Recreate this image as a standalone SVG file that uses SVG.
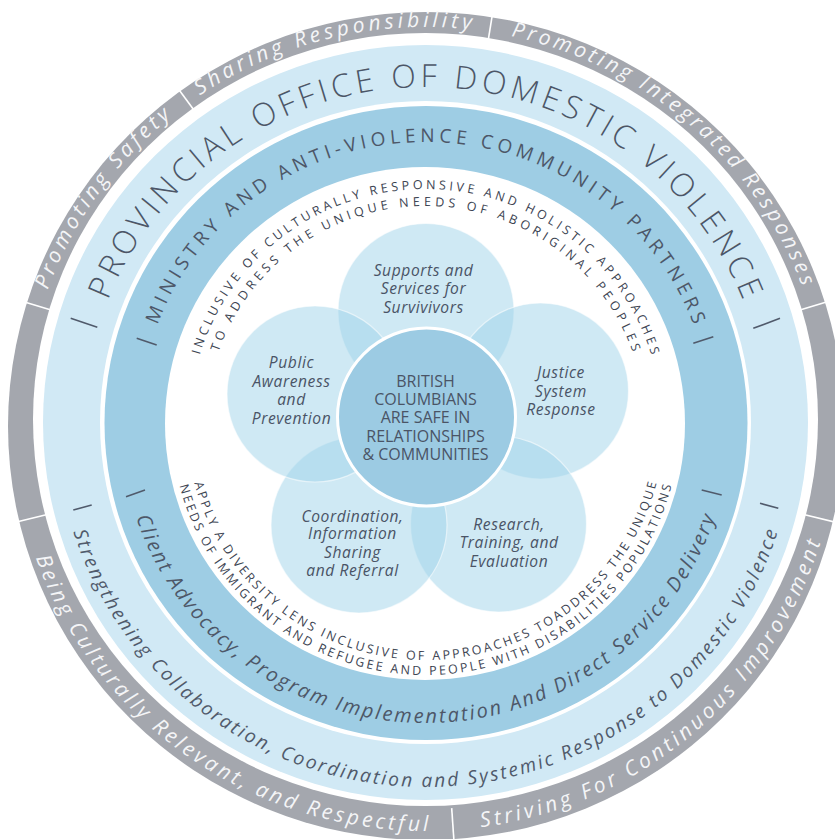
<svg xmlns="http://www.w3.org/2000/svg" width="835" height="839" viewBox="0 0 835 839">
<style>
.gt{font-family:'Open Sans','Noto Sans',sans-serif;font-style:italic;font-size:21px;fill:#f4f5f7}
.lt{font-family:'Open Sans','Noto Sans',sans-serif;font-weight:300;font-size:32px;fill:#4c5667}
.lb{font-family:'Open Sans','Noto Sans',sans-serif;font-style:italic;font-size:19px;fill:#505a6b}
.mt{font-family:'Open Sans','Noto Sans',sans-serif;font-size:19px;fill:#4d5768}
.mb{font-family:'Open Sans','Noto Sans',sans-serif;font-style:italic;font-size:20px;fill:#4d5768}
.it{font-family:'Open Sans','Noto Sans',sans-serif;font-size:12.5px;fill:#3c4452}
.ct{font-family:'Open Sans','Noto Sans',sans-serif;font-size:16px;fill:#4a5466;text-anchor:middle}
.pt{font-family:'Open Sans','Noto Sans',sans-serif;font-style:italic;font-size:15.6px;fill:#4a5466;text-anchor:middle;letter-spacing:0.6px}
.petal{fill:#9fd3ea;fill-opacity:0.5;stroke:#ffffff;stroke-opacity:0.55;stroke-width:1.2}
.wsep{stroke:#ffffff;stroke-width:1.6}
.dsep{stroke:#505a6b;stroke-width:1.6}
</style>
<defs>
<path id="pGt" d="M425.5,819 A401,396 0 1 1 425.5,27 A401,396 0 1 1 425.5,819"/>
<path id="pGb" d="M425.5,15 A413,408 0 1 0 425.5,831 A413,408 0 1 0 425.5,15"/>
<path id="pLt" d="M425.5,759 A341,336 0 1 1 425.5,87 A341,336 0 1 1 425.5,759"/>
<path id="pLb" d="M425.5,59 A369,364 0 1 0 425.5,787 A369,364 0 1 0 425.5,59"/>
<path id="pMt" d="M425.5,704 A286,281 0 1 1 425.5,142 A286,281 0 1 1 425.5,704"/>
<path id="pMb" d="M425.5,123 A305,300 0 1 0 425.5,723 A305,300 0 1 0 425.5,123"/>
<path id="pI1" d="M425.5,657 A236,234 0 1 1 425.5,189 A236,234 0 1 1 425.5,657"/>
<path id="pI2" d="M425.5,640 A219,217 0 1 1 425.5,206 A219,217 0 1 1 425.5,640"/>
<path id="pI3" d="M425.5,186 A239,237 0 1 0 425.5,660 A239,237 0 1 0 425.5,186"/>
<path id="pI4" d="M425.5,171 A254,252 0 1 0 425.5,675 A254,252 0 1 0 425.5,171"/>
</defs>
<rect width="835" height="839" fill="#ffffff"/>
<g id="rings">
<ellipse cx="426" cy="426" rx="418" ry="414" fill="#a4a7ae"/>
<ellipse cx="425.5" cy="419.5" rx="392.5" ry="386.5" fill="#ffffff"/>
<ellipse cx="425.5" cy="422.5" rx="382.5" ry="377.5" fill="#d1e9f5"/>
<ellipse cx="425.5" cy="422.5" rx="325.5" ry="321.5" fill="#ffffff"/>
<ellipse cx="426" cy="423" rx="321.5" ry="317" fill="#9ecde4"/>
<ellipse cx="425" cy="423.5" rx="260" ry="256.5" fill="#ffffff"/>
</g>
<g id="separators">
<line class="wsep" x1="56" y1="311.4" x2="19.6" y2="300.5"/>
<line class="wsep" x1="795" y1="311.4" x2="831.4" y2="300.5"/>
<line class="wsep" x1="50.3" y1="513.7" x2="13.4" y2="522.7"/>
<line class="wsep" x1="800.7" y1="513.7" x2="837.6" y2="522.7"/>
<line class="wsep" x1="195.9" y1="112.7" x2="173.3" y2="82.1"/>
<line class="wsep" x1="487.9" y1="42.1" x2="494" y2="4.6"/>
<line class="wsep" x1="451.7" y1="808.1" x2="454.3" y2="846"/>
<line class="dsep" x1="70.7" y1="318.3" x2="97.3" y2="327.3"/>
<line class="dsep" x1="753.3" y1="328.3" x2="780" y2="318.3"/>
<line class="dsep" x1="73.3" y1="510" x2="91.7" y2="505"/>
<line class="dsep" x1="760" y1="503.3" x2="778.3" y2="508.3"/>
<line class="dsep" x1="136.7" y1="338.3" x2="156.7" y2="345"/>
<line class="dsep" x1="693.3" y1="343.3" x2="713.3" y2="336.7"/>
<line class="dsep" x1="126" y1="496.7" x2="145" y2="490"/>
<line class="dsep" x1="701.7" y1="490" x2="721.7" y2="495"/>
</g>
<g id="ring-texts">
<text class="gt" text-anchor="middle"><textPath href="#pGt" startOffset="869" textLength="215" lengthAdjust="spacing">Promoting Safety</textPath></text>
<text class="gt" text-anchor="middle"><textPath href="#pGt" startOffset="1155" textLength="285" lengthAdjust="spacing">Sharing Responsibility</textPath></text>
<text class="gt" text-anchor="middle"><textPath href="#pGt" startOffset="1538" textLength="400" lengthAdjust="spacing">Promoting Integrated Responses</textPath></text>
<text class="gt" text-anchor="middle"><textPath href="#pGb" startOffset="1037" textLength="510" lengthAdjust="spacing">Being Culturally Relevant, and Respectful</textPath></text>
<text class="gt" text-anchor="middle"><textPath href="#pGb" startOffset="1579" textLength="468" lengthAdjust="spacing">Striving For Continuous Improvement</textPath></text>
<text class="lt" text-anchor="middle"><textPath href="#pLt" startOffset="50%" textLength="812" lengthAdjust="spacing">PROVINCIAL OFFICE OF DOMESTIC VIOLENCE</textPath></text>
<text class="lb" text-anchor="middle"><textPath href="#pLb" startOffset="50%" textLength="930" lengthAdjust="spacing">Strengthening Collaboration, Coordination and Systemic Response to Domestic Violence</textPath></text>
<text class="mt" text-anchor="middle"><textPath href="#pMt" startOffset="50%" textLength="690" lengthAdjust="spacing">MINISTRY AND ANTI-VIOLENCE COMMUNITY PARTNERS</textPath></text>
<text class="mb" text-anchor="middle"><textPath href="#pMb" startOffset="50%" textLength="758" lengthAdjust="spacing">Client Advocacy, Program Implementation And Direct Service Delivery</textPath></text>
<text class="it" text-anchor="middle"><textPath href="#pI1" startOffset="50%" textLength="600" lengthAdjust="spacing">INCLUSIVE OF CULTURALLY RESPONSIVE AND HOLISTIC APPROACHES</textPath></text>
<text class="it" text-anchor="middle"><textPath href="#pI2" startOffset="50%" textLength="540" lengthAdjust="spacing">TO ADDRESS THE UNIQUE NEEDS OF ABORIGINAL PEOPLES</textPath></text>
<text class="it" text-anchor="middle"><textPath href="#pI3" startOffset="50%" textLength="626" lengthAdjust="spacing">APPLY A DIVERSITY LENS INCLUSIVE OF APPROACHES TOADDRESS THE UNIQUE</textPath></text>
<text class="it" text-anchor="middle"><textPath href="#pI4" startOffset="50%" textLength="668" lengthAdjust="spacing">NEEDS OF IMMIGRANT AND REFUGEE AND PEOPLE WITH DISABILITIES POPULATIONS</textPath></text>
</g>
<g id="petal-supports">
<circle class="petal" cx="426" cy="311.5" r="88"/>
<text class="pt"><tspan x="423.5" y="276">Supports and</tspan><tspan x="423.5" y="294.3">Services for</tspan><tspan x="423.5" y="312.6">Survivivors</tspan></text>
</g>
<g id="petal-justice">
<circle class="petal" cx="540.5" cy="391" r="88"/>
<text class="pt"><tspan x="561" y="378.3">Justice</tspan><tspan x="561" y="396.7">System</tspan><tspan x="561" y="415">Response</tspan></text>
</g>
<g id="petal-research">
<circle class="petal" cx="498.5" cy="524" r="88"/>
<text class="pt"><tspan x="509" y="530">Research,</tspan><tspan x="509" y="548.3">Training, and</tspan><tspan x="509" y="566.7">Evaluation</tspan></text>
</g>
<g id="petal-coordination">
<circle class="petal" cx="359" cy="525" r="88"/>
<text class="pt"><tspan x="352.5" y="521.7">Coordination,</tspan><tspan x="352.5" y="539.3">Information</tspan><tspan x="352.5" y="557.7">Sharing</tspan><tspan x="352.5" y="576">and Referral</tspan></text>
</g>
<g id="petal-public">
<circle class="petal" cx="315" cy="394" r="88"/>
<text class="pt"><tspan x="291.5" y="368.3">Public</tspan><tspan x="291.5" y="387">Awareness</tspan><tspan x="291.5" y="405.3">and</tspan><tspan x="291.5" y="424">Prevention</tspan></text>
</g>
<g id="center">
<circle cx="426.5" cy="417" r="89" fill="#9ccbe3" stroke="#ffffff" stroke-width="3"/>
<text class="ct"><tspan x="425.5" y="386.7">BRITISH</tspan><tspan x="425.5" y="404.8">COLUMBIANS</tspan><tspan x="425.5" y="423.2">ARE SAFE IN</tspan><tspan x="425.5" y="441.5">RELATIONSHIPS</tspan><tspan x="425.5" y="460">&amp; COMMUNITIES</tspan></text>
</g>
</svg>
